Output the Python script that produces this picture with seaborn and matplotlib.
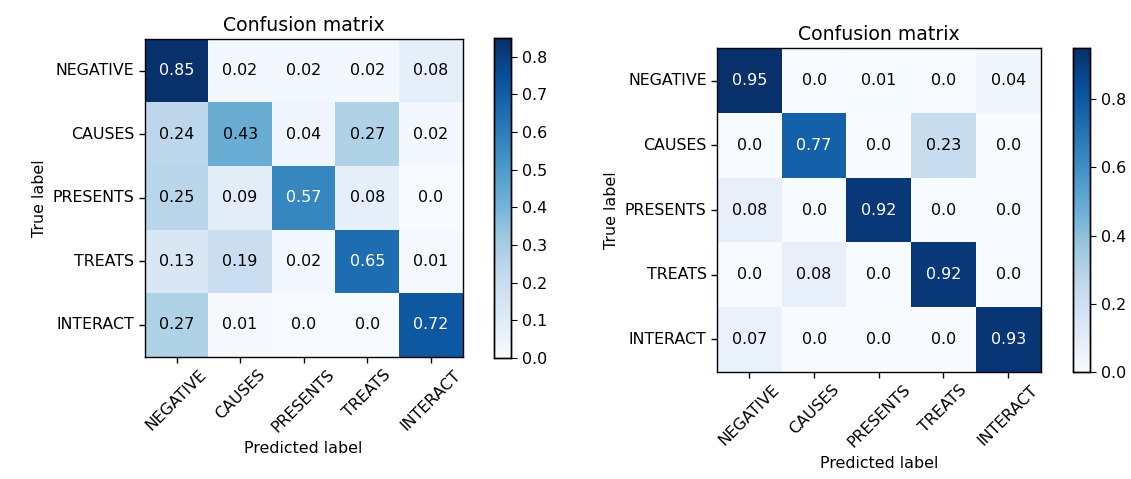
import numpy as np
import matplotlib
matplotlib.use('Agg')
import matplotlib.pyplot as plt
import seaborn as sns

# 类别标签
labels = ['NEGATIVE', 'CAUSES', 'PRESENTS', 'TREATS', 'INTERACT']

# 左边的混淆矩阵
cm_left = [[0.85, 0.02, 0.02, 0.02, 0.08],
           [0.24, 0.43, 0.04, 0.27, 0.02],
           [0.25, 0.09, 0.57, 0.08, 0.0],
           [0.13, 0.19, 0.02, 0.65, 0.01],
           [0.27, 0.01, 0.0, 0.0, 0.72]]

# 右边的混淆矩阵
cm_right = [[0.95, 0.0, 0.01, 0.0, 0.04],
            [0.0, 0.77, 0.0, 0.23, 0.0],
            [0.08, 0.0, 0.92, 0.0, 0.0],
            [0.0, 0.08, 0.0, 0.92, 0.0],
            [0.07, 0.0, 0.0, 0.0, 0.93]]

plt.rcParams['font.family'] = ['DejaVu Sans']
fs = 11.4

fig = plt.figure(figsize=(11.31, 4.79), dpi=100)

# 位置: [left, bottom, width, height]
ax1 = fig.add_axes([0.128, 0.253, 0.281, 0.668])
cax1 = fig.add_axes([0.437, 0.253, 0.015, 0.668])
ax2 = fig.add_axes([0.634, 0.223, 0.286, 0.677])
cax2 = fig.add_axes([0.949, 0.223, 0.015, 0.677])


def plot_cm(ax, cax, cm, cbar_ticks):
    cm = np.array(cm)
    annot = np.array([[str(v) for v in row] for row in cm])
    sns.heatmap(cm, ax=ax, cbar_ax=cax, cmap='Blues', vmin=0, vmax=cm.max(),
                annot=annot, fmt='', square=True,
                annot_kws={'fontsize': fs},
                xticklabels=labels, yticklabels=labels)
    # 文字颜色: 大于0.5用白色
    for t, v in zip(ax.texts, cm.flatten()):
        t.set_color('white' if v > 0.5 else 'black')
    for sp in ax.spines.values():
        sp.set_visible(True)
        sp.set_color('black')
        sp.set_linewidth(1)
    ax.tick_params(axis='both', length=4, width=1, labelsize=fs)
    plt.setp(ax.get_xticklabels(), rotation=45, ha='center')
    plt.setp(ax.get_yticklabels(), rotation=0)
    ax.set_title('Confusion matrix', fontsize=13.6)
    ax.set_ylabel('True label', fontsize=fs)
    ax.set_xlabel('Predicted label', fontsize=fs)
    cax.set_yticks(cbar_ticks)
    cax.tick_params(labelsize=fs, length=4)
    for sp in cax.spines.values():
        sp.set_visible(True)
        sp.set_color('black')
        sp.set_linewidth(1)


plot_cm(ax1, cax1, cm_left, [0.0, 0.1, 0.2, 0.3, 0.4, 0.5, 0.6, 0.7, 0.8])
plot_cm(ax2, cax2, cm_right, [0.0, 0.2, 0.4, 0.6, 0.8])

fig.savefig('out.png', dpi=100)
